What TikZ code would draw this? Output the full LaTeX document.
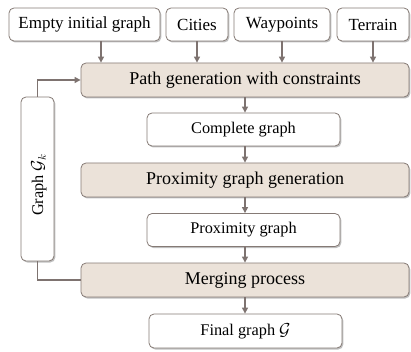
\documentclass[tikz,border=0pt]{standalone}
\usepackage{fontspec}
\setmainfont{Liberation Serif}
\usetikzlibrary{arrows.meta,shadows,calc}
\definecolor{procfill}{HTML}{EBE2D9}
\definecolor{edgegray}{HTML}{857A75}
\definecolor{arrgray}{HTML}{7E7370}
\tikzset{
  box/.style={draw=edgegray, line width=0.8pt, rounded corners=5pt, fill=white,
    drop shadow={shadow xshift=1.3pt, shadow yshift=-1.5pt, fill=black!50, opacity=0.5},
    inner sep=0pt, font=\fontsize{17}{19}\selectfont},
  proc/.style={box, fill=procfill, minimum width=328pt, minimum height=34pt, font=\fontsize{18}{20}\selectfont},
  datab/.style={box, minimum width=193pt, minimum height=33pt, font=\fontsize{16.3}{18}\selectfont},
  arr/.style={draw=arrgray, line width=1.1pt, -{Triangle[width=6pt,length=6pt]}},
  lin/.style={draw=arrgray, line width=1.1pt}
}
\begin{document}
\begin{tikzpicture}[x=1pt,y=-1pt]
\useasboundingbox (0,0) rectangle (411,352);
% top row
\node[box, minimum width=151pt, minimum height=33pt] (E) at (84.5,24.5) {Empty initial graph};
\node[box, minimum width=62pt, minimum height=33pt] (C) at (197,24.5) {Cities};
\node[box, minimum width=96pt, minimum height=33pt] (W) at (282,24.5) {Waypoints};
\node[box, minimum width=72pt, minimum height=33pt] (T) at (373,24.5) {Terrain};
% main column
\node[proc] (PG) at (245,80) {Path generation with constraints};
\node[datab] (CG) at (243.5,129.5) {Complete graph};
\node[proc] (PX) at (245,180) {Proximity graph generation};
\node[datab] (PR) at (243.5,230) {Proximity graph};
\node[proc] (MP) at (245,280) {Merging process};
\node[datab, minimum height=34pt] (FG) at (245.5,331) {Final graph $\mathcal{G}$};
% side box
\node[box, minimum width=33pt, minimum height=164pt] (S) at (37.5,179) {};
\node[rotate=90, font=\fontsize{16.3}{18}\selectfont] (SL) at (39,185) {Graph $\mathcal{G}_k$};
% arrows from top row
\draw[arr] ($(E.south)+(16.5,0)$) coordinate (e1) -- (e1 |- PG.north);
\draw[arr] (C.south) -- (C.south |- PG.north);
\draw[arr] (W.south) -- (W.south |- PG.north);
\draw[arr] (T.south) -- (T.south |- PG.north);
% main arrows
\draw[arr] (PG.south) -- (PG.south |- CG.north);
\draw[arr] (PG.south |- CG.south) -- (PX.north);
\draw[arr] (PX.south) -- (PX.south |- PR.north);
\draw[arr] (PX.south |- PR.south) -- (MP.north);
\draw[arr] (MP.south) -- (MP.south |- FG.north);
% feedback
\draw[arr] (S.north) -- (S.north |- PG.west) -- (PG.west);
\draw[lin] (S.south) -- (S.south |- MP.west) -- (MP.west);
\end{tikzpicture}
\end{document}
